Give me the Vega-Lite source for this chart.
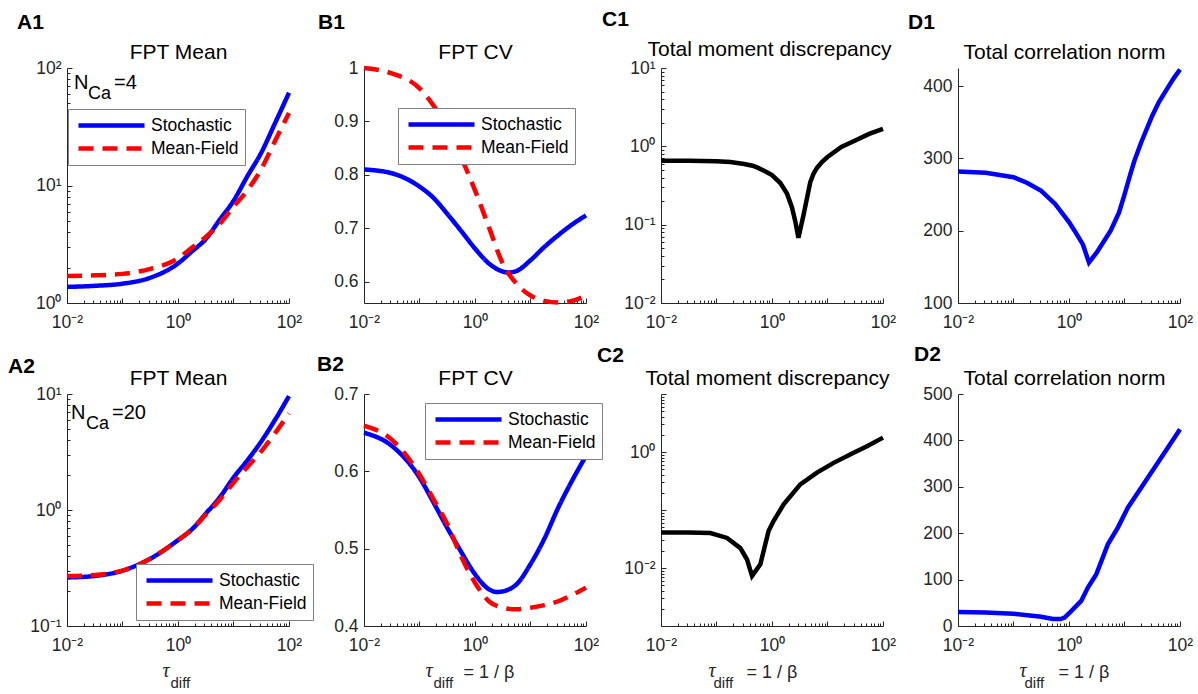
{
 "$schema": "https://vega.github.io/schema/vega-lite/v6.json",
 "background": "white",
 "autosize": {"type": "pad"},
 "padding": {"left": 8, "top": 9, "right": 5, "bottom": 5},
 "datasets": {
  "a1": [
   {"s":"Stochastic","x":0.01,"y":1.37},{"s":"Stochastic","x":0.0316,"y":1.40},{"s":"Stochastic","x":0.1,"y":1.46},{"s":"Stochastic","x":0.316,"y":1.64},{"s":"Stochastic","x":1,"y":2.17},{"s":"Stochastic","x":1.78,"y":2.75},{"s":"Stochastic","x":3.16,"y":3.5},{"s":"Stochastic","x":5.62,"y":5.1},{"s":"Stochastic","x":10,"y":7.4},{"s":"Stochastic","x":17.8,"y":12},{"s":"Stochastic","x":31.6,"y":19},{"s":"Stochastic","x":56.2,"y":34},{"s":"Stochastic","x":100,"y":61.5},
   {"s":"Mean-Field","x":0.01,"y":1.70},{"s":"Mean-Field","x":0.0316,"y":1.72},{"s":"Mean-Field","x":0.1,"y":1.77},{"s":"Mean-Field","x":0.316,"y":1.95},{"s":"Mean-Field","x":1,"y":2.4},{"s":"Mean-Field","x":1.78,"y":2.95},{"s":"Mean-Field","x":3.16,"y":3.65},{"s":"Mean-Field","x":5.62,"y":4.7},{"s":"Mean-Field","x":10,"y":6.6},{"s":"Mean-Field","x":17.8,"y":9.1},{"s":"Mean-Field","x":31.6,"y":13.8},{"s":"Mean-Field","x":56.2,"y":24},{"s":"Mean-Field","x":100,"y":41.5}
  ],
  "b1": [
   {"s":"Stochastic","x":0.01,"y":0.810},{"s":"Stochastic","x":0.0316,"y":0.803},{"s":"Stochastic","x":0.1,"y":0.778},{"s":"Stochastic","x":0.178,"y":0.757},{"s":"Stochastic","x":0.316,"y":0.727},{"s":"Stochastic","x":0.562,"y":0.695},{"s":"Stochastic","x":1,"y":0.662},{"s":"Stochastic","x":1.78,"y":0.634},{"s":"Stochastic","x":3.16,"y":0.619},{"s":"Stochastic","x":3.98,"y":0.617},{"s":"Stochastic","x":5.62,"y":0.620},{"s":"Stochastic","x":10,"y":0.640},{"s":"Stochastic","x":17.8,"y":0.665},{"s":"Stochastic","x":31.6,"y":0.687},{"s":"Stochastic","x":56.2,"y":0.707},{"s":"Stochastic","x":100,"y":0.724},
   {"s":"Mean-Field","x":0.01,"y":1.0},{"s":"Mean-Field","x":0.0316,"y":0.99},{"s":"Mean-Field","x":0.1,"y":0.962},{"s":"Mean-Field","x":0.178,"y":0.930},{"s":"Mean-Field","x":0.316,"y":0.889},{"s":"Mean-Field","x":0.562,"y":0.833},{"s":"Mean-Field","x":1,"y":0.771},{"s":"Mean-Field","x":1.78,"y":0.702},{"s":"Mean-Field","x":3.16,"y":0.634},{"s":"Mean-Field","x":5.62,"y":0.596},{"s":"Mean-Field","x":10,"y":0.574},{"s":"Mean-Field","x":17.8,"y":0.564},{"s":"Mean-Field","x":31.6,"y":0.561},{"s":"Mean-Field","x":56.2,"y":0.564},{"s":"Mean-Field","x":100,"y":0.574}
  ],
  "c1": [
   {"x":0.01,"y":0.655},{"x":0.0316,"y":0.655},{"x":0.1,"y":0.645},{"x":0.178,"y":0.63},{"x":0.316,"y":0.595},{"x":0.447,"y":0.565},{"x":0.562,"y":0.53},{"x":0.794,"y":0.47},{"x":1,"y":0.43},{"x":1.413,"y":0.34},{"x":1.862,"y":0.25},{"x":2.291,"y":0.166},{"x":2.63,"y":0.11},{"x":2.992,"y":0.068},{"x":3.715,"y":0.135},{"x":4.898,"y":0.35},{"x":5.623,"y":0.45},{"x":6.457,"y":0.53},{"x":7.943,"y":0.63},{"x":10,"y":0.73},{"x":17.78,"y":0.98},{"x":31.62,"y":1.19},{"x":56.23,"y":1.44},{"x":100,"y":1.67}
  ],
  "d1": [
   {"x":0.01,"y":282},{"x":0.0316,"y":280},{"x":0.1,"y":274},{"x":0.178,"y":266},{"x":0.316,"y":255},{"x":0.562,"y":237},{"x":1,"y":212},{"x":1.259,"y":200},{"x":1.778,"y":181},{"x":2.291,"y":156},{"x":3.162,"y":170},{"x":5.623,"y":200},{"x":7.943,"y":225},{"x":10,"y":250},{"x":12.59,"y":277},{"x":15.14,"y":297},{"x":19.95,"y":322},{"x":31.62,"y":359},{"x":41.69,"y":378},{"x":56.23,"y":394},{"x":75.86,"y":410},{"x":100,"y":423}
  ],
  "a2": [
   {"s":"Stochastic","x":0.01,"y":0.262},{"s":"Stochastic","x":0.0316,"y":0.27},{"s":"Stochastic","x":0.1,"y":0.30},{"s":"Stochastic","x":0.316,"y":0.38},{"s":"Stochastic","x":1,"y":0.55},{"s":"Stochastic","x":1.778,"y":0.68},{"s":"Stochastic","x":3.162,"y":0.93},{"s":"Stochastic","x":5.623,"y":1.28},{"s":"Stochastic","x":10,"y":1.9},{"s":"Stochastic","x":17.78,"y":2.68},{"s":"Stochastic","x":31.62,"y":3.9},{"s":"Stochastic","x":56.23,"y":6.0},{"s":"Stochastic","x":100,"y":9.6},
   {"s":"Mean-Field","x":0.01,"y":0.27},{"s":"Mean-Field","x":0.0316,"y":0.275},{"s":"Mean-Field","x":0.1,"y":0.30},{"s":"Mean-Field","x":0.316,"y":0.38},{"s":"Mean-Field","x":1,"y":0.55},{"s":"Mean-Field","x":1.778,"y":0.68},{"s":"Mean-Field","x":3.162,"y":0.91},{"s":"Mean-Field","x":5.623,"y":1.22},{"s":"Mean-Field","x":10,"y":1.72},{"s":"Mean-Field","x":17.78,"y":2.35},{"s":"Mean-Field","x":31.62,"y":3.2},{"s":"Mean-Field","x":56.23,"y":4.6},{"s":"Mean-Field","x":100,"y":6.8}
  ],
  "b2": [
   {"s":"Stochastic","x":0.01,"y":0.650},{"s":"Stochastic","x":0.0316,"y":0.633},{"s":"Stochastic","x":0.1,"y":0.592},{"s":"Stochastic","x":0.178,"y":0.560},{"s":"Stochastic","x":0.316,"y":0.527},{"s":"Stochastic","x":0.562,"y":0.496},{"s":"Stochastic","x":1,"y":0.467},{"s":"Stochastic","x":1.78,"y":0.4475},{"s":"Stochastic","x":2.51,"y":0.444},{"s":"Stochastic","x":3.98,"y":0.447},{"s":"Stochastic","x":5.62,"y":0.454},{"s":"Stochastic","x":10,"y":0.480},{"s":"Stochastic","x":17.8,"y":0.513},{"s":"Stochastic","x":31.6,"y":0.553},{"s":"Stochastic","x":56.2,"y":0.588},{"s":"Stochastic","x":100,"y":0.620},
   {"s":"Mean-Field","x":0.01,"y":0.659},{"s":"Mean-Field","x":0.0316,"y":0.641},{"s":"Mean-Field","x":0.1,"y":0.596},{"s":"Mean-Field","x":0.178,"y":0.564},{"s":"Mean-Field","x":0.316,"y":0.532},{"s":"Mean-Field","x":0.562,"y":0.490},{"s":"Mean-Field","x":1,"y":0.456},{"s":"Mean-Field","x":1.78,"y":0.432},{"s":"Mean-Field","x":3.16,"y":0.4237},{"s":"Mean-Field","x":5.62,"y":0.4215},{"s":"Mean-Field","x":10,"y":0.4237},{"s":"Mean-Field","x":17.8,"y":0.427},{"s":"Mean-Field","x":31.6,"y":0.432},{"s":"Mean-Field","x":56.2,"y":0.440},{"s":"Mean-Field","x":100,"y":0.4496}
  ],
  "c2": [
   {"x":0.01,"y":0.041},{"x":0.0316,"y":0.0408},{"x":0.0776,"y":0.040},{"x":0.155,"y":0.033},{"x":0.269,"y":0.022},{"x":0.355,"y":0.014},{"x":0.437,"y":0.0073},{"x":0.617,"y":0.0116},{"x":0.759,"y":0.026},{"x":0.871,"y":0.044},{"x":1.072,"y":0.065},{"x":1.622,"y":0.125},{"x":3.236,"y":0.277},{"x":6.457,"y":0.44},{"x":12.88,"y":0.65},{"x":30.2,"y":0.98},{"x":52.5,"y":1.27},{"x":100,"y":1.77}
  ],
  "d2": [
   {"x":0.01,"y":30},{"x":0.0316,"y":29},{"x":0.1,"y":26.5},{"x":0.316,"y":20},{"x":0.513,"y":15},{"x":0.708,"y":15},{"x":0.832,"y":18},{"x":1.096,"y":32},{"x":1.66,"y":54},{"x":2.188,"y":83},{"x":3.09,"y":111},{"x":5.012,"y":176},{"x":7.586,"y":212},{"x":11.48,"y":255},{"x":19.95,"y":298},{"x":34.67,"y":341},{"x":60.26,"y":384},{"x":100,"y":424}
  ]
 },
 "columns": 4,
 "spacing": {"row": 91, "column": 75},
 "bounds": "flush",
 "resolve": {"scale": {"color": "independent", "strokeDash": "independent"}, "legend": {"color": "independent", "strokeDash": "independent"}},
 "concat": [
  {
   "width": 222, "height": 235,
   "title": {"text": "A1", "dx": -50, "dy": -4},
   "layer": [
    {
     "data": {"name": "a1"},
     "mark": {"type": "line", "interpolate": "monotone", "strokeWidth": 4.5},
     "encoding": {
      "x": {"field": "x", "type": "quantitative", "scale": {"type": "log", "domain": [0.01, 100], "nice": false},
        "axis": {"orient": "bottom", "title": null, "values": [0.01,0.02,0.03,0.04,0.05,0.06,0.07,0.08,0.09,0.1,0.2,0.3,0.4,0.5,0.6,0.7,0.8,0.9,1,2,3,4,5,6,7,8,9,10,20,30,40,50,60,70,80,90,100],
          "labelExpr": "datum.value == 0.01 ? '10⁻²' : datum.value == 1 ? '10⁰' : datum.value == 100 ? '10²' : ''",
          "tickSize": {"condition": {"test": "indexof([0.01,0.1,1,10,100], datum.value) >= 0", "value": -5}, "value": -3}}},
      "y": {"field": "y", "type": "quantitative", "scale": {"type": "log", "domain": [1, 100], "nice": false},
        "axis": {"orient": "left", "title": "FPT Mean", "titleX": 111, "values": [1,2,3,4,5,6,7,8,9,10,20,30,40,50,60,70,80,90,100],
          "labelExpr": "datum.value == 1 ? '10⁰' : datum.value == 10 ? '10¹' : datum.value == 100 ? '10²' : ''",
          "tickSize": {"condition": {"test": "indexof([1,10,100], datum.value) >= 0", "value": -5}, "value": -3}}},
      "color": {"field": "s", "type": "nominal", "scale": {"domain": ["Stochastic", "Mean-Field"], "range": ["#0000ff", "#ff0000"]}, "legend": {"title": null, "orient": "none", "legendX": 1, "legendY": 41}},
      "strokeDash": {"field": "s", "type": "nominal", "scale": {"domain": ["Stochastic", "Mean-Field"], "range": [[1, 0], [15, 9]]}, "legend": {"title": null, "orient": "none", "legendX": 1, "legendY": 41}}
     }
    },
    {
     "data": {"values": [{}]},
     "mark": {"type": "text", "text": "N", "align": "left", "baseline": "alphabetic", "fontSize": 20, "dx": 7, "dy": 21, "color": "#000000"},
     "encoding": {"x": {"datum": 0.01, "type": "quantitative", "axis": null}, "y": {"datum": 100, "type": "quantitative", "axis": null}}
    },
    {
     "data": {"values": [{}]},
     "mark": {"type": "text", "text": "Ca", "align": "left", "baseline": "alphabetic", "fontSize": 18, "dx": 21, "dy": 31, "color": "#000000"},
     "encoding": {"x": {"datum": 0.01, "type": "quantitative", "axis": null}, "y": {"datum": 100, "type": "quantitative", "axis": null}}
    },
    {
     "data": {"values": [{}]},
     "mark": {"type": "text", "text": "=4", "align": "left", "baseline": "alphabetic", "fontSize": 20, "dx": 47, "dy": 21, "color": "#000000"},
     "encoding": {"x": {"datum": 0.01, "type": "quantitative", "axis": null}, "y": {"datum": 100, "type": "quantitative", "axis": null}}
    }
   ],
   "resolve": {"axis": {"x": "independent", "y": "independent"}}
  },
  {
   "width": 222, "height": 235,
   "title": {"text": "B1", "dx": -46, "dy": -4},
   "data": {"name": "b1"},
   "mark": {"type": "line", "interpolate": "monotone", "strokeWidth": 4.5},
   "encoding": {
    "x": {"field": "x", "type": "quantitative", "scale": {"type": "log", "domain": [0.01, 100], "nice": false},
      "axis": {"title": null, "values": [0.01,0.02,0.03,0.04,0.05,0.06,0.07,0.08,0.09,0.1,0.2,0.3,0.4,0.5,0.6,0.7,0.8,0.9,1,2,3,4,5,6,7,8,9,10,20,30,40,50,60,70,80,90,100],
        "labelExpr": "datum.value == 0.01 ? '10⁻²' : datum.value == 1 ? '10⁰' : datum.value == 100 ? '10²' : ''",
        "tickSize": {"condition": {"test": "indexof([0.01,0.1,1,10,100], datum.value) >= 0", "value": -5}, "value": -3}}},
    "y": {"field": "y", "type": "quantitative", "scale": {"domain": [0.56, 1], "nice": false, "zero": false},
      "axis": {"title": "FPT CV", "titleX": 111, "values": [0.6, 0.7, 0.8, 0.9, 1], "labelExpr": "'' + datum.value", "tickSize": -5}},
    "color": {"field": "s", "type": "nominal", "scale": {"domain": ["Stochastic", "Mean-Field"], "range": ["#0000ff", "#ff0000"]}, "legend": {"title": null, "orient": "none", "legendX": 34, "legendY": 40}},
    "strokeDash": {"field": "s", "type": "nominal", "scale": {"domain": ["Stochastic", "Mean-Field"], "range": [[1, 0], [15, 9]]}, "legend": {"title": null, "orient": "none", "legendX": 34, "legendY": 40}}
   }
  },
  {
   "width": 222, "height": 235,
   "title": {"text": "C1", "dx": -59, "dy": -4},
   "data": {"name": "c1"},
   "mark": {"type": "line", "interpolate": "linear", "strokeWidth": 4.5, "color": "#000000"},
   "encoding": {
    "x": {"field": "x", "type": "quantitative", "scale": {"type": "log", "domain": [0.01, 100], "nice": false},
      "axis": {"title": null, "values": [0.01,0.02,0.03,0.04,0.05,0.06,0.07,0.08,0.09,0.1,0.2,0.3,0.4,0.5,0.6,0.7,0.8,0.9,1,2,3,4,5,6,7,8,9,10,20,30,40,50,60,70,80,90,100],
        "labelExpr": "datum.value == 0.01 ? '10⁻²' : datum.value == 1 ? '10⁰' : datum.value == 100 ? '10²' : ''",
        "tickSize": {"condition": {"test": "indexof([0.01,0.1,1,10,100], datum.value) >= 0", "value": -5}, "value": -3}}},
    "y": {"field": "y", "type": "quantitative", "scale": {"type": "log", "domain": [0.01, 10], "nice": false},
      "axis": {"title": "Total moment discrepancy", "titleX": 108, "titleY": -13, "values": [0.01,0.02,0.03,0.04,0.05,0.06,0.07,0.08,0.09,0.1,0.2,0.3,0.4,0.5,0.6,0.7,0.8,0.9,1,2,3,4,5,6,7,8,9,10],
        "labelExpr": "datum.value == 0.01 ? '10⁻²' : datum.value == 0.1 ? '10⁻¹' : datum.value == 1 ? '10⁰' : datum.value == 10 ? '10¹' : ''",
        "tickSize": {"condition": {"test": "indexof([0.01,0.1,1,10], datum.value) >= 0", "value": -5}, "value": -3}}}
   }
  },
  {
   "width": 222, "height": 235,
   "title": {"text": "D1", "dx": -50, "dy": -4},
   "data": {"name": "d1"},
   "mark": {"type": "line", "interpolate": "linear", "strokeWidth": 4.5, "color": "#0000ff"},
   "encoding": {
    "x": {"field": "x", "type": "quantitative", "scale": {"type": "log", "domain": [0.01, 100], "nice": false},
      "axis": {"title": null, "values": [0.01,0.02,0.03,0.04,0.05,0.06,0.07,0.08,0.09,0.1,0.2,0.3,0.4,0.5,0.6,0.7,0.8,0.9,1,2,3,4,5,6,7,8,9,10,20,30,40,50,60,70,80,90,100],
        "labelExpr": "datum.value == 0.01 ? '10⁻²' : datum.value == 1 ? '10⁰' : datum.value == 100 ? '10²' : ''",
        "tickSize": {"condition": {"test": "indexof([0.01,0.1,1,10,100], datum.value) >= 0", "value": -5}, "value": -3}}},
    "y": {"field": "y", "type": "quantitative", "scale": {"domain": [100, 425], "nice": false, "zero": false},
      "axis": {"title": "Total correlation norm", "titleX": 106, "values": [100, 200, 300, 400], "labelExpr": "'' + datum.value", "tickSize": -5}}
   }
  },
  {
   "width": 222, "height": 232,
   "title": {"text": "A2", "dx": -59, "dy": 14},
   "layer": [
    {
     "data": {"name": "a2"},
     "mark": {"type": "line", "interpolate": "monotone", "strokeWidth": 4.5},
     "encoding": {
      "x": {"field": "x", "type": "quantitative", "scale": {"type": "log", "domain": [0.01, 100], "nice": false},
        "axis": {"orient": "bottom", "title": "τ", "titleX": 95, "titleY": 50, "titleAlign": "left", "titleBaseline": "alphabetic", "titleFont": "Liberation Serif", "titleFontStyle": "italic", "titleFontSize": 20, "titleColor": "#262626",
          "values": [0.01,0.02,0.03,0.04,0.05,0.06,0.07,0.08,0.09,0.1,0.2,0.3,0.4,0.5,0.6,0.7,0.8,0.9,1,2,3,4,5,6,7,8,9,10,20,30,40,50,60,70,80,90,100],
          "labelExpr": "datum.value == 0.01 ? '10⁻²' : datum.value == 1 ? '10⁰' : datum.value == 100 ? '10²' : ''",
          "tickSize": {"condition": {"test": "indexof([0.01,0.1,1,10,100], datum.value) >= 0", "value": -5}, "value": -3}}},
      "y": {"field": "y", "type": "quantitative", "scale": {"type": "log", "domain": [0.1, 10], "nice": false},
        "axis": {"title": "FPT Mean", "titleX": 111, "values": [0.1,0.2,0.3,0.4,0.5,0.6,0.7,0.8,0.9,1,2,3,4,5,6,7,8,9,10],
          "labelExpr": "datum.value == 0.1 ? '10⁻¹' : datum.value == 1 ? '10⁰' : datum.value == 10 ? '10¹' : ''",
          "tickSize": {"condition": {"test": "indexof([0.1,1,10], datum.value) >= 0", "value": -5}, "value": -3}}},
      "color": {"field": "s", "type": "nominal", "scale": {"domain": ["Stochastic", "Mean-Field"], "range": ["#0000ff", "#ff0000"]}, "legend": {"title": null, "orient": "none", "legendX": 69, "legendY": 170}},
      "strokeDash": {"field": "s", "type": "nominal", "scale": {"domain": ["Stochastic", "Mean-Field"], "range": [[1, 0], [15, 9]]}, "legend": {"title": null, "orient": "none", "legendX": 69, "legendY": 170}}
     }
    },
    {
     "data": {"name": "a2"},
     "mark": {"type": "line", "strokeOpacity": 0},
     "encoding": {
      "x": {"field": "x", "type": "quantitative", "axis": {"orient": "bottom", "title": "diff", "labels": false, "ticks": false, "domain": false, "titleX": 103, "titleY": 61, "titleAlign": "left", "titleBaseline": "alphabetic", "titleFontSize": 15, "titleColor": "#262626"}},
      "y": {"field": "y", "type": "quantitative", "axis": null},
      "detail": {"field": "s"}
     }
    },
    {
     "data": {"values": [{}]},
     "mark": {"type": "text", "text": "N", "align": "left", "baseline": "alphabetic", "fontSize": 20, "dx": 4, "dy": 25, "color": "#000000"},
     "encoding": {"x": {"datum": 0.01, "type": "quantitative", "axis": null}, "y": {"datum": 10, "type": "quantitative", "axis": null}}
    },
    {
     "data": {"values": [{}]},
     "mark": {"type": "text", "text": "Ca", "align": "left", "baseline": "alphabetic", "fontSize": 18, "dx": 19, "dy": 35, "color": "#000000"},
     "encoding": {"x": {"datum": 0.01, "type": "quantitative", "axis": null}, "y": {"datum": 10, "type": "quantitative", "axis": null}}
    },
    {
     "data": {"values": [{}]},
     "mark": {"type": "text", "text": "=20", "align": "left", "baseline": "alphabetic", "fontSize": 20, "dx": 45, "dy": 25, "color": "#000000"},
     "encoding": {"x": {"datum": 0.01, "type": "quantitative", "axis": null}, "y": {"datum": 10, "type": "quantitative", "axis": null}}
    }
   ],
   "resolve": {"axis": {"x": "independent", "y": "independent"}}
  },
  {
   "width": 222, "height": 232,
   "title": {"text": "B2", "dx": -47, "dy": 12},
   "layer": [
    {
     "data": {"name": "b2"},
     "mark": {"type": "line", "interpolate": "monotone", "strokeWidth": 4.5},
     "encoding": {
      "x": {"field": "x", "type": "quantitative", "scale": {"type": "log", "domain": [0.01, 100], "nice": false},
        "axis": {"orient": "bottom", "title": "τ", "titleX": 61, "titleY": 50, "titleAlign": "left", "titleBaseline": "alphabetic", "titleFont": "Liberation Serif", "titleFontStyle": "italic", "titleFontSize": 20, "titleColor": "#262626",
          "values": [0.01,0.02,0.03,0.04,0.05,0.06,0.07,0.08,0.09,0.1,0.2,0.3,0.4,0.5,0.6,0.7,0.8,0.9,1,2,3,4,5,6,7,8,9,10,20,30,40,50,60,70,80,90,100],
          "labelExpr": "datum.value == 0.01 ? '10⁻²' : datum.value == 1 ? '10⁰' : datum.value == 100 ? '10²' : ''",
          "tickSize": {"condition": {"test": "indexof([0.01,0.1,1,10,100], datum.value) >= 0", "value": -5}, "value": -3}}},
      "y": {"field": "y", "type": "quantitative", "scale": {"domain": [0.4, 0.7], "nice": false, "zero": false},
        "axis": {"title": "FPT CV", "titleX": 111, "values": [0.4, 0.5, 0.6, 0.7], "labelExpr": "'' + datum.value", "tickSize": -5}},
      "color": {"field": "s", "type": "nominal", "scale": {"domain": ["Stochastic", "Mean-Field"], "range": ["#0000ff", "#ff0000"]}, "legend": {"title": null, "orient": "none", "legendX": 61, "legendY": 9}},
      "strokeDash": {"field": "s", "type": "nominal", "scale": {"domain": ["Stochastic", "Mean-Field"], "range": [[1, 0], [15, 9]]}, "legend": {"title": null, "orient": "none", "legendX": 61, "legendY": 9}}
     }
    },
    {
     "data": {"name": "b2"},
     "mark": {"type": "line", "strokeOpacity": 0},
     "encoding": {
      "x": {"field": "x", "type": "quantitative", "axis": {"orient": "bottom", "title": "diff", "labels": false, "ticks": false, "domain": false, "titleX": 69, "titleY": 61, "titleAlign": "left", "titleBaseline": "alphabetic", "titleFontSize": 15, "titleColor": "#262626"}},
      "y": {"field": "y", "type": "quantitative", "axis": {"orient": "left", "title": "= 1 / β", "labels": false, "ticks": false, "domain": false, "titleAngle": 0, "titleX": 99, "titleY": 283, "titleAlign": "left", "titleBaseline": "alphabetic", "titleFontSize": 18, "titleColor": "#262626"}},
      "detail": {"field": "s"}
     }
    }
   ],
   "resolve": {"axis": {"x": "independent", "y": "independent"}}
  },
  {
   "width": 222, "height": 232,
   "title": {"text": "C2", "dx": -64, "dy": 3},
   "layer": [
    {
     "data": {"name": "c2"},
     "mark": {"type": "line", "interpolate": "linear", "strokeWidth": 4.5, "color": "#000000"},
     "encoding": {
      "x": {"field": "x", "type": "quantitative", "scale": {"type": "log", "domain": [0.01, 100], "nice": false},
        "axis": {"orient": "bottom", "title": "τ", "titleX": 47, "titleY": 50, "titleAlign": "left", "titleBaseline": "alphabetic", "titleFont": "Liberation Serif", "titleFontStyle": "italic", "titleFontSize": 20, "titleColor": "#262626",
          "values": [0.01,0.02,0.03,0.04,0.05,0.06,0.07,0.08,0.09,0.1,0.2,0.3,0.4,0.5,0.6,0.7,0.8,0.9,1,2,3,4,5,6,7,8,9,10,20,30,40,50,60,70,80,90,100],
          "labelExpr": "datum.value == 0.01 ? '10⁻²' : datum.value == 1 ? '10⁰' : datum.value == 100 ? '10²' : ''",
          "tickSize": {"condition": {"test": "indexof([0.01,0.1,1,10,100], datum.value) >= 0", "value": -5}, "value": -3}}},
      "y": {"field": "y", "type": "quantitative", "scale": {"type": "log", "domain": [0.001, 10], "nice": false},
        "axis": {"title": "Total moment discrepancy", "titleX": 106, "values": [0.001,0.002,0.003,0.004,0.005,0.006,0.007,0.008,0.009,0.01,0.02,0.03,0.04,0.05,0.06,0.07,0.08,0.09,0.1,0.2,0.3,0.4,0.5,0.6,0.7,0.8,0.9,1,2,3,4,5,6,7,8,9,10],
          "labelExpr": "datum.value == 0.01 ? '10⁻²' : datum.value == 1 ? '10⁰' : ''",
          "tickSize": {"condition": {"test": "indexof([0.001,0.01,0.1,1,10], datum.value) >= 0", "value": -5}, "value": -3}}}
     }
    },
    {
     "data": {"name": "c2"},
     "mark": {"type": "line", "strokeOpacity": 0},
     "encoding": {
      "x": {"field": "x", "type": "quantitative", "axis": {"orient": "bottom", "title": "diff", "labels": false, "ticks": false, "domain": false, "titleX": 52, "titleY": 61, "titleAlign": "left", "titleBaseline": "alphabetic", "titleFontSize": 15, "titleColor": "#262626"}},
      "y": {"field": "y", "type": "quantitative", "axis": {"orient": "left", "title": "= 1 / β", "labels": false, "ticks": false, "domain": false, "titleAngle": 0, "titleX": 85, "titleY": 283, "titleAlign": "left", "titleBaseline": "alphabetic", "titleFontSize": 18, "titleColor": "#262626"}}
     }
    }
   ],
   "resolve": {"axis": {"x": "independent", "y": "independent"}}
  },
  {
   "width": 222, "height": 232,
   "title": {"text": "D2", "dx": -44, "dy": 2},
   "layer": [
    {
     "data": {"name": "d2"},
     "mark": {"type": "line", "interpolate": "linear", "strokeWidth": 4.5, "color": "#0000ff"},
     "encoding": {
      "x": {"field": "x", "type": "quantitative", "scale": {"type": "log", "domain": [0.01, 100], "nice": false},
        "axis": {"orient": "bottom", "title": "τ", "titleX": 61, "titleY": 50, "titleAlign": "left", "titleBaseline": "alphabetic", "titleFont": "Liberation Serif", "titleFontStyle": "italic", "titleFontSize": 20, "titleColor": "#262626",
          "values": [0.01,0.02,0.03,0.04,0.05,0.06,0.07,0.08,0.09,0.1,0.2,0.3,0.4,0.5,0.6,0.7,0.8,0.9,1,2,3,4,5,6,7,8,9,10,20,30,40,50,60,70,80,90,100],
          "labelExpr": "datum.value == 0.01 ? '10⁻²' : datum.value == 1 ? '10⁰' : datum.value == 100 ? '10²' : ''",
          "tickSize": {"condition": {"test": "indexof([0.01,0.1,1,10,100], datum.value) >= 0", "value": -5}, "value": -3}}},
      "y": {"field": "y", "type": "quantitative", "scale": {"domain": [0, 500], "nice": false, "zero": false},
        "axis": {"title": "Total correlation norm", "titleX": 106, "values": [0, 100, 200, 300, 400, 500], "labelExpr": "'' + datum.value", "tickSize": -5}}
     }
    },
    {
     "data": {"name": "d2"},
     "mark": {"type": "line", "strokeOpacity": 0},
     "encoding": {
      "x": {"field": "x", "type": "quantitative", "axis": {"orient": "bottom", "title": "diff", "labels": false, "ticks": false, "domain": false, "titleX": 66, "titleY": 61, "titleAlign": "left", "titleBaseline": "alphabetic", "titleFontSize": 15, "titleColor": "#262626"}},
      "y": {"field": "y", "type": "quantitative", "axis": {"orient": "left", "title": "= 1 / β", "labels": false, "ticks": false, "domain": false, "titleAngle": 0, "titleX": 100, "titleY": 283, "titleAlign": "left", "titleBaseline": "alphabetic", "titleFontSize": 18, "titleColor": "#262626"}}
     }
    }
   ],
   "resolve": {"axis": {"x": "independent", "y": "independent"}}
  }
 ],
 "config": {
  "font": "Liberation Sans",
  "view": {"stroke": null},
  "axis": {"grid": false, "domainColor": "#262626", "domainWidth": 1, "tickColor": "#262626", "tickWidth": 1, "labelColor": "#262626", "labelFontSize": 17.5, "labelFlush": false, "labelOverlap": false, "titleFontWeight": "normal", "titleColor": "#000000", "titlePadding": 0},
  "axisX": {"labelPadding": 15, "labelBaseline": "top"},
  "axisY": {"labelPadding": 11, "titleAngle": 0, "titleAlign": "center", "titleBaseline": "alphabetic", "titleY": -10, "titleFontSize": 21},
  "title": {"anchor": "start", "frame": "group", "fontSize": 21, "fontWeight": "bold", "baseline": "alphabetic", "offset": 0, "color": "#000000"},
  "legend": {"symbolType": "stroke", "symbolSize": 4356, "symbolStrokeWidth": 4.5, "clipHeight": 21, "rowPadding": 2, "padding": 6, "labelFontSize": 17.5, "labelColor": "#000000", "fillColor": "#ffffff", "strokeColor": "#808080", "labelOffset": 4, "symbolOffset": 2}
 }
}
